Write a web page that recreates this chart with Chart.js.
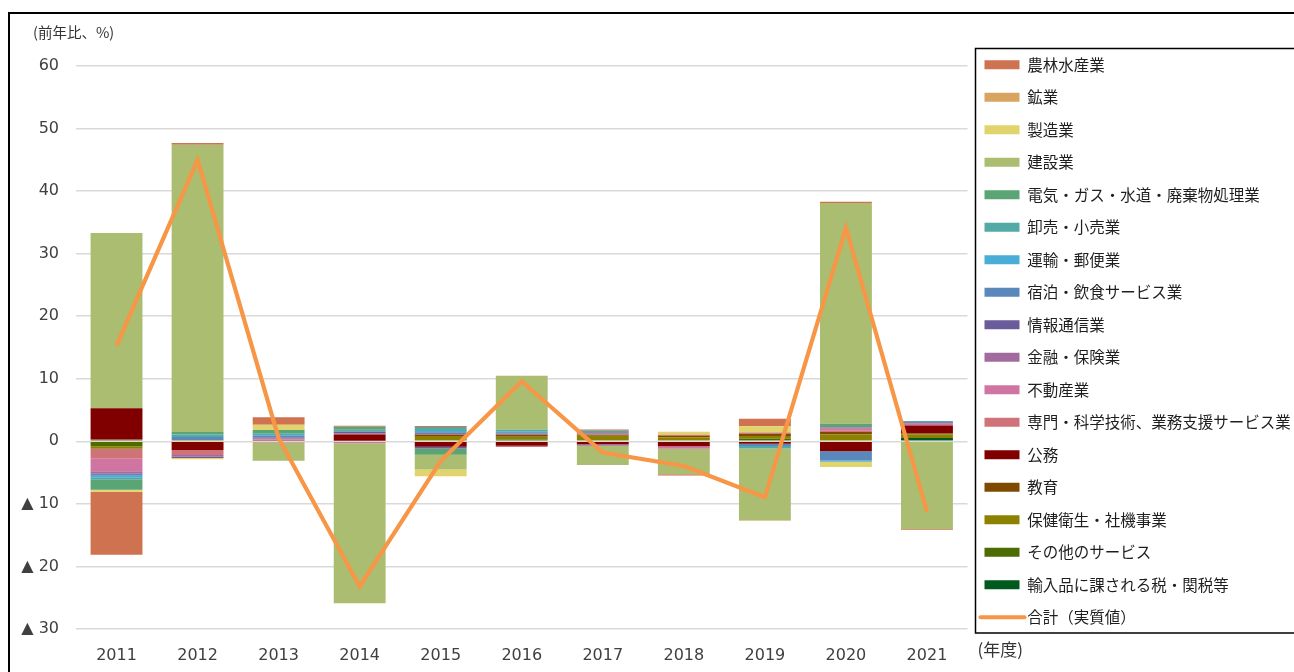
<!DOCTYPE html>
<html>
<head>
<meta charset="utf-8">
<script src="https://cdn.jsdelivr.net/npm/chart.js@4/dist/chart.umd.min.js"></script>
<style>
html,body{margin:0;padding:0;background:#fff;}
#wrap{width:1294px;height:672px;position:relative;overflow:hidden;}
</style>
</head>
<body>
<div id="wrap"><canvas id="c" width="1294" height="672"></canvas></div>
<script>
// ---- data (legend order) ----
const years = ['2011','2012','2013','2014','2015','2016','2017','2018','2019','2020','2021'];
const yTicks = [60, 50, 40, 30, 20, 10, 0, -10, -20, -30];

const agriculture   = [-10.1, 0.3, 1.2, 0.15, 0.15, 0, 0.2, -0.2, 1.2, 0.2, -0.15];
const mining        = [0, 0, 0, 0, 0, 0.05, 0, 0, -0.1, 0, 0];
const manufacturing = [-0.3, -0.2, 0.85, 0, -1.1, 0, 0, 0.5, 1.0, -0.85, 0];
const construction  = [28.0, 45.9, -2.9, -25.6, -2.35, 8.6, -3.1, -4.05, -11.45, 35.3, -14.0];
const utilities     = [-1.6, 0.4, 0.5, 0.5, -1.0, 0, 0, 0, 0, 0.55, 0];
const trade         = [-0.4, 0.4, 0.3, 0.3, 0.65, 0.3, 0.35, 0, -0.4, 0, 0.2];
const transport     = [-0.25, 0, 0.1, 0, 0.3, 0.25, 0, 0, 0, -0.2, 0];
const hospitality   = [-0.3, 0.5, 0.3, 0, 0, 0, 0, 0, -0.35, -1.45, 0];
const infoComm      = [0, -0.2, 0.1, 0.25, -0.3, 0, 0, 0, 0, 0, 0.1];
const finance       = [-0.4, -0.25, 0.2, 0.2, 0.3, 0.25, -0.25, 0, 0, 0.25, 0.15];
const realEstate    = [-2.0, 0, -0.2, -0.3, 0, 0, 0.3, -0.4, 0, 0.3, 0.25];
const professional  = [-1.6, -0.8, 0.1, 0, 0, -0.2, 0, 0.2, 0.2, 0.2, 0];
const publicAdmin   = [5.0, -1.4, 0.2, 1.0, -0.85, -0.7, -0.45, -0.8, -0.4, -1.6, 1.25];
const education     = [0.3, 0, 0, 0.1, 0.2, 0.3, 0.15, 0.2, 0.35, 0.4, 0.2];
const health        = [-0.4, 0.2, 0, 0, 0.85, 0.45, 0.75, 0.65, 0.45, 1.1, 0.55];
const otherServices = [-0.8, 0, 0, 0, 0, 0.3, 0.15, 0, 0.4, 0, 0];
const importTax     = [0, 0, 0, 0, 0, 0, 0, 0, 0, 0, 0.55];
const totalReal     = [15.3, 45.0, 0.5, -23.2, -3.15, 9.6, -1.8, -3.95, -8.95, 34.1, -11.25];

const seriesNames = ['農林水産業','鉱業','製造業','建設業','電気・ガス・水道・廃棄物処理業','卸売・小売業','運輸・郵便業','宿泊・飲食サービス業','情報通信業','金融・保険業','不動産業','専門・科学技術、業務支援サービス業','公務','教育','保健衛生・社機事業','その他のサービス','輸入品に課される税・関税等'];
const seriesData = [agriculture, mining, manufacturing, construction, utilities, trade, transport, hospitality, infoComm, finance, realEstate, professional, publicAdmin, education, health, otherServices, importTax];
const seriesColors = ['#CF7250','#D8A45F','#E1D46D','#AABD70','#5AA573','#52A9A5','#4AADD5','#5A88BB','#6A5B9B','#A26B9E','#D075A2','#D07379','#800000','#7F4A00','#8C8200','#4C6B00','#005A1E'];
const totalName = '合計（実質値）';
const totalColor = '#F79646';

// ---- datasets: line first, then bars in stacking order (last legend item nearest zero) ----
const datasets = [{
  type: 'line', label: totalName, data: totalReal,
  borderColor: totalColor, backgroundColor: totalColor, borderWidth: 4.2,
  pointRadius: 0, pointHoverRadius: 0, fill: false, tension: 0, order: -1
}];
const rank = [seriesNames.length];
for (let k = seriesNames.length - 1; k >= 0; k--) {
  datasets.push({
    type: 'bar', label: seriesNames[k], data: seriesData[k],
    backgroundColor: seriesColors[k], borderWidth: 0, stack: 'bars',
    categoryPercentage: 1.0, barPercentage: 0.64, order: 0
  });
  rank.push(k);
}

const deco = {
  id: 'deco',
  afterDraw(chart) {
    const ctx = chart.ctx, ca = chart.chartArea, lg = chart.legend;
    ctx.save();
    // outer frame
    ctx.strokeStyle = '#000';
    ctx.lineWidth = 2;
    ctx.beginPath();
    ctx.moveTo(9, chart.height + 5);
    ctx.lineTo(9, 13);
    ctx.lineTo(chart.width + 5, 13);
    ctx.stroke();
    // legend frame
    const hb = lg.legendHitBoxes;
    const top = Math.min(...hb.map(h => h.top)) - 8.5;
    const bottom = Math.max(...hb.map(h => h.top + h.height)) + 8;
    const left = lg.left + 8;
    ctx.lineWidth = 1.5;
    ctx.strokeRect(left, top, chart.width - left + 10, bottom - top);
    // line symbol for the total series
    const last = hb[hb.length - 1];
    ctx.fillStyle = '#fff';
    ctx.fillRect(last.left - 1, last.top, 37, last.height);
    ctx.strokeStyle = totalColor;
    ctx.lineWidth = 4;
    ctx.lineCap = 'round';
    ctx.beginPath();
    const cy = last.top + last.height / 2;
    ctx.moveTo(last.left - 4, cy);
    ctx.lineTo(last.left + 40, cy);
    ctx.stroke();
    // axis captions
    ctx.fillStyle = '#333';
    ctx.textAlign = 'left';
    ctx.textBaseline = 'middle';
    ctx.font = '14.5px "Noto Sans CJK JP", sans-serif';
    ctx.fillText('(前年比、%)', ca.left - 43, 32);
    ctx.font = '17px "Noto Sans CJK JP", sans-serif';
    ctx.fillText('(年度)', left + 2, 650);
    ctx.restore();
  }
};

new Chart(document.getElementById('c'), {
  data: { labels: years, datasets },
  plugins: [deco],
  options: {
    responsive: false,
    animation: false,
    layout: { padding: { top: 10, right: 4, bottom: 0, left: 0 } },
    plugins: {
      tooltip: { enabled: false },
      title: { display: true, text: '', padding: 0, font: { size: 56, lineHeight: 1 } },
      legend: {
        position: 'right',
        align: 'center',
        labels: {
          boxWidth: 35, boxHeight: 9, padding: 17,
          color: '#1e1e1e',
          font: { family: '"Noto Sans CJK JP", sans-serif', size: 15.5 },
          generateLabels(chart) {
            const items = Chart.defaults.plugins.legend.labels.generateLabels(chart);
            items.forEach(it => { it.lineWidth = 0; it.strokeStyle = 'rgba(0,0,0,0)'; });
            return items;
          },
          sort: (a, b) => rank[a.datasetIndex] - rank[b.datasetIndex]
        }
      }
    },
    scales: {
      x: {
        stacked: true,
        grid: { display: false, drawTicks: false },
        border: { display: false },
        ticks: { color: '#404040', padding: 17, font: { family: '"DejaVu Sans", sans-serif', size: 16 } },
        afterFit(s) { s.height = 43; }
      },
      y: {
        stacked: true,
        min: yTicks[yTicks.length - 1], max: yTicks[0],
        afterBuildTicks(s) { s.ticks = yTicks.slice().reverse().map(v => ({ value: v })); },
        ticks: {
          color: '#404040', padding: 17,
          font: { family: '"DejaVu Sans", sans-serif', size: 16 },
          callback: v => v < 0 ? '▲ ' + Math.abs(v) : String(v)
        },
        grid: { color: '#d9d9d9', lineWidth: 1.5, drawTicks: false },
        border: { display: false },
        afterFit(s) { s.width = 76; }
      }
    }
  }
});
</script>
</body>
</html>
